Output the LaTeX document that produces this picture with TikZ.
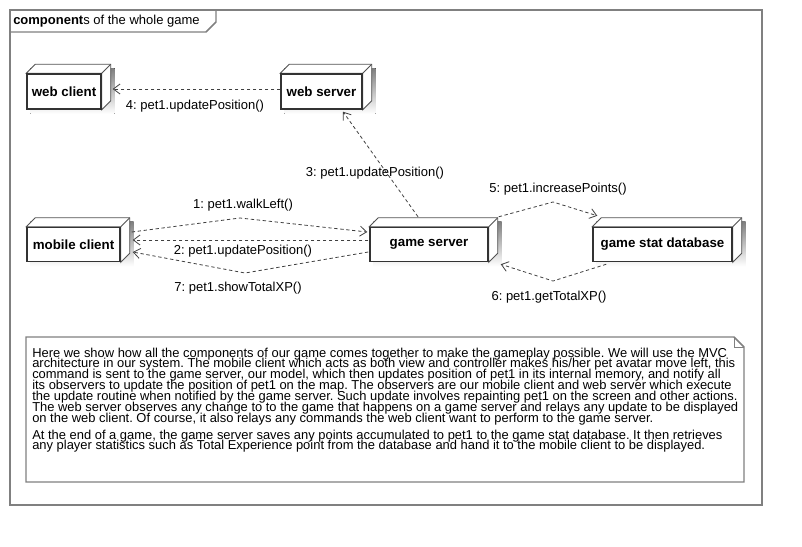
\documentclass[tikz,border=0pt]{standalone}
\usepackage{fontspec}
\setmainfont{Liberation Sans}
\usetikzlibrary{arrows.meta,calc,backgrounds}
\definecolor{framegray}{HTML}{808080}
\definecolor{boxline}{HTML}{333333}
\definecolor{msgline}{HTML}{404040}
\definecolor{shade}{HTML}{EFEFEF}

\tikzset{
  device/.style={draw=boxline, line width=1.1pt, fill=white,
    font=\fontsize{10}{12}\selectfont\bfseries, minimum height=25.5pt, inner sep=0pt},
  depth/.style={draw=boxline!85, line width=0.7pt, fill=white},
  msg/.style={draw=msgline, line width=0.6pt, dash pattern=on 2.5pt off 2pt,
    -{Straight Barb[length=5pt,width=7.5pt]}},
  msglabel/.style={font=\fontsize{9.75}{11.7}\selectfont, inner sep=0pt},
  notetext/.style={font=\fontsize{9.7}{8.13}\selectfont, align=left, inner sep=0pt},
}

\newcommand{\devicedepth}[1]{%
  \begin{scope}[on background layer]
    \fill[shade] ($(#1.north west)+(4,-5)$) rectangle ($(#1.south east)+(13,4)$);
    \filldraw[depth] (#1.north west) -- ++(9,-9) -| ($(#1.south east)+(9,-9)$)
      -- (#1.south east) -- (#1.north east) -- cycle;
    \draw[depth] (#1.north east) -- ++(9,-9);
  \end{scope}
}

\begin{document}
\lineskiplimit=-5pt
\frenchspacing
\begin{tikzpicture}[x=0.75pt, y=-0.75pt]
  \useasboundingbox (0,0) rectangle (802,546);

  \draw[framegray, line width=1.1pt] (10,10) rectangle (762,505);
  \draw[framegray, line width=1.1pt] (10,32) -- (206,32) -- (216,22) -- (216,10);
  \node[msglabel, anchor=west] (title) at (13,21.5) {\textbf{component}s of the whole game};

  \node[device, minimum width=55.5pt, minimum height=26.25pt] (webclient) at (64,91.5) {web client};
  \node[device, minimum width=60.75pt, minimum height=26.25pt] (webserver) at (321.5,91.5) {web server};
  \node[device, minimum width=69.75pt] (mobileclient) at (73.5,244.5) {mobile client};
  \node[device, minimum width=88.5pt] (gameserver) at (429,244.5) {game server};
  \node[device, minimum width=104.25pt] (statdb) at (662.5,244.5) {game stat database};

  \devicedepth{webclient}
  \devicedepth{webserver}
  \devicedepth{mobileclient}
  \devicedepth{gameserver}
  \devicedepth{statdb}

  \draw[msg] ($(webserver.west)+(0,-2.5)$) -- ($(webclient.east)+(11,-2.5)$);
  \draw[msg] ($(gameserver.north)+(-11,-10)$) -- ($(webserver.south)+(21.5,2)$);
  \draw[msg] ($(mobileclient.east)+(11,-12.5)$) -- (240,218) -- ($(gameserver.west)+(-2,-12.5)$);
  \draw[msg] ($(gameserver.west)+(-1,-4.5)$) -- ($(mobileclient.east)+(12,-4.5)$);
  \draw[msg] ($(gameserver.west)+(-1,7.5)$) -- (245,273) -- ($(mobileclient.east)+(12,7.5)$);
  \draw[msg] ($(gameserver.north east)+(10,-10)$) -- (553,202) -- ($(statdb.north west)+(5,-11)$);
  \draw[msg] ($(statdb.south west)+(14,2)$) -- (553,281) -- ($(gameserver.south east)+(12,2)$);

  \node[msglabel] (m4) at (195,106) {4: pet1.updatePosition()};
  \node[msglabel] (m3) at (375,173) {3: pet1.updatePosition()};
  \node[msglabel] (m1) at (243,205) {1: pet1.walkLeft()};
  \node[msglabel] (m2) at (243,251) {2: pet1.updatePosition()};
  \node[msglabel] (m7) at (238,288) {7: pet1.showTotalXP()};
  \node[msglabel] (m5) at (558,189) {5: pet1.increasePoints()};
  \node[msglabel] (m6) at (549,297) {6: pet1.getTotalXP()};

  \draw[framegray, line width=1.1pt, fill=white] (26,337) -- (734,337) -- (744,347) -- (744,482) -- (26,482) -- cycle;
  \draw[framegray, line width=0.7pt] (734,337) -- (734,347) -- (744,347);
  \node[notetext, anchor=north west] (notebody) at (32,347.5) {Here we show how all the components of our game comes together to make the gameplay possible. We will use the MVC\\
architecture in our system. The mobile client which acts as both view and controller makes his/her pet avatar move left, this\\
command is sent to the game server, our model, which then updates position of pet1 in its internal memory, and notify all\\
its observers to update the position of pet1 on the map. The observers are our mobile client and web server which execute\\
the update routine when notified by the game server. Such update involves repainting pet1 on the screen and other actions.\\
The web server observes any change to to the game that happens on a game server and relays any update to be displayed\\
on the web client. Of course, it also relays any commands the web client want to perform to the game server.\\[4.5pt]
At the end of a game, the game server saves any points accumulated to pet1 to the game stat database. It then retrieves\\
any player statistics such as Total Experience point from the database and hand it to the mobile client to be displayed.};
\end{tikzpicture}
\end{document}
